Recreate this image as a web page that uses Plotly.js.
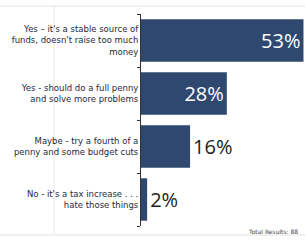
<!DOCTYPE html>
<html>
<head>
<meta charset="utf-8">
<script src="https://cdn.plot.ly/plotly-3.0.1.min.js"></script>
<style>html,body{margin:0;padding:0;background:#fff;}#chart{width:305px;height:240px;}</style>
</head>
<body>
<div id="chart"></div>
<script>
const categories = ["stable", "full", "fourth", "no"];
const tickLabels = [
  "Yes – it's a stable source of<br>funds, doesn't raise too much<br>money",
  "Yes - should do a full penny<br>and solve more problems",
  "Maybe - try a fourth of a<br>penny and some budget cuts",
  "No - it's a tax increase . . .<br>hate those things"
];
const percents = [53, 28, 16, 2];
const labelPositions = ["inside", "inside", "outside", "outside"];
const totalResults = 88;

const trace = {
  type: "bar",
  orientation: "h",
  y: categories,
  x: percents,
  text: percents.map(v => v + "%"),
  textposition: labelPositions,
  insidetextanchor: "end",
  insidetextfont: {family: "Open Sans", size: 20, color: "#ffffff"},
  outsidetextfont: {family: "Open Sans", size: 20, color: "#222222"},
  constraintext: "none",
  cliponaxis: false,
  marker: {color: "#2f4870", line: {width: 0}},
  hoverinfo: "none"
};

const layout = {
  width: 305, height: 240,
  margin: {l: 141, r: 0, t: 14, b: 14},
  paper_bgcolor: "#ffffff",
  plot_bgcolor: "#ffffff",
  showlegend: false,
  bargap: 0.2,
  xaxis: {range: [0, 53.5], visible: false, fixedrange: true},
  yaxis: {
    type: "category",
    autorange: "reversed",
    tickmode: "array",
    tickvals: categories,
    ticktext: tickLabels,
    tickson: "boundaries",
    ticks: "outside", ticklen: 3, tickcolor: "#333", tickwidth: 1,
    showline: true, linecolor: "#333", linewidth: 1,
    showgrid: false, zeroline: false,
    tickfont: {family: "DejaVu Sans", size: 8.5, color: "#1f2940"}
  },
  shapes: [
    {type: "line", xref: "paper", yref: "paper", x0: -0.86, x1: 1, y0: 1.0377, y1: 1.0377, line: {color: "#e2e2e2", width: 1}},
    {type: "line", xref: "paper", yref: "paper", x0: -0.86, x1: 1, y0: -0.0425, y1: -0.0425, line: {color: "#e2e2e2", width: 1}},
    {type: "line", xref: "paper", yref: "paper", x0: -0.53, x1: -0.53, y0: -0.0425, y1: 1.0377, line: {color: "#e6e6e6", width: 1}, layer: "below"}
  ],
  annotations: [
    {xref: "paper", yref: "paper", x: 0.9695, y: -0.0236, xanchor: "right", yanchor: "middle",
     text: "Total Results: " + totalResults, showarrow: false,
     font: {family: "DejaVu Sans", size: 6, color: "#444"}}
  ]
};

Plotly.newPlot("chart", [trace], layout, {displayModeBar: false, staticPlot: true});
</script>
</body>
</html>
